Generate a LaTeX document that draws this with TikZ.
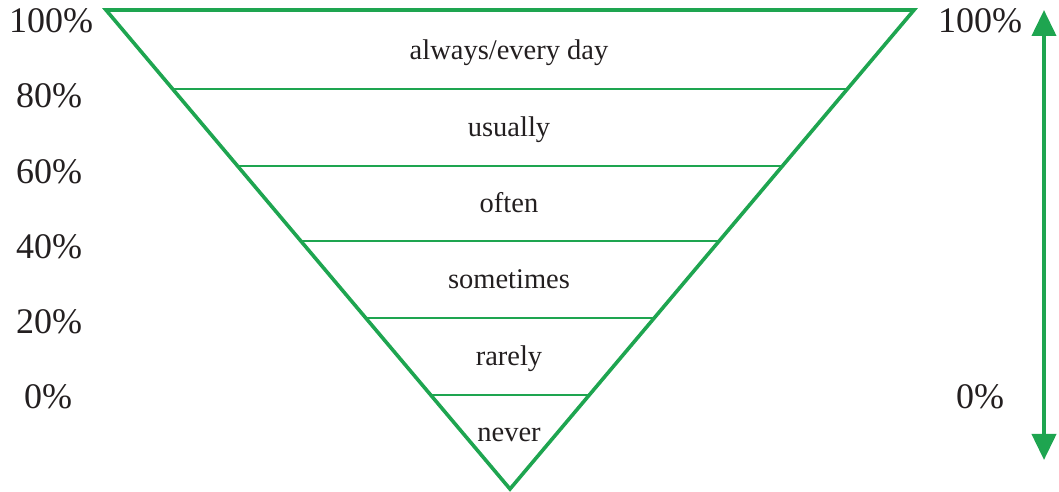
\documentclass[tikz,border=0pt]{standalone}
\usepackage{fontspec}
\setmainfont{Liberation Serif}
\usetikzlibrary{arrows.meta,positioning,calc}
\definecolor{freqGreen}{RGB}{30,165,80}
\definecolor{freqText}{RGB}{35,31,32}

\begin{document}
\begin{tikzpicture}[
  x=1pt, y=1pt,
  percent/.style={
    anchor=base,
    inner sep=0pt,
    text=freqText,
    font=\fontsize{36}{40}\selectfont
  },
  level/.style={
    anchor=base,
    inner sep=0pt,
    text=freqText,
    font=\fontsize{28.5}{32}\selectfont
  },
  outline/.style={freqGreen,line width=3.6pt,line join=miter},
  band/.style={freqGreen,line width=2.6pt},
  scalearrow/.style={{Triangle[width=24pt,length=26pt]}-{Triangle[width=24pt,length=26pt]},freqGreen,line width=4pt}
]
  \useasboundingbox (0,0) rectangle (1059,492);
  % funnel outline
  \coordinate (tl) at (106,482);
  \coordinate (tr) at (914,482);
  \coordinate (apex) at (510,3);
  \draw[band] ($(tl)!0.165!(apex)$) -- ($(tr)!0.165!(apex)$);
  \draw[band] ($(tl)!0.326!(apex)$) -- ($(tr)!0.326!(apex)$);
  \draw[band] ($(tl)!0.482!(apex)$) -- ($(tr)!0.482!(apex)$);
  \draw[band] ($(tl)!0.643!(apex)$) -- ($(tr)!0.643!(apex)$);
  \draw[band] ($(tl)!0.804!(apex)$) -- ($(tr)!0.804!(apex)$);
  \draw[outline] (tl) -- (tr) -- (apex) -- cycle;
  % frequency words
  \node[level] (always) at (509,432) {always/every day};
  \node[level] (usually) at (509,355) {usually};
  \node[level] (often) at (509,279) {often};
  \node[level] (sometimes) at (509,203) {sometimes};
  \node[level] (rarely) at (509,126) {rarely};
  \node[level] (never) at (509,50) {never};
  % left scale
  \node[percent] (l100) at (51,459) {100\%};
  \node[percent] (l80) at (49,384) {80\%};
  \node[percent] (l60) at (49,308) {60\%};
  \node[percent] (l40) at (49,233) {40\%};
  \node[percent] (l20) at (49,158) {20\%};
  \node[percent] (l0) at (48,83) {0\%};
  % right scale
  \node[percent] (r100) at (980,459) {100\%};
  \node[percent] (r0) at (980,83) {0\%};
  \coordinate (arrowtop) at (1044,482);
  \coordinate (arrowbot) at (1044,32);
  \draw[scalearrow] (arrowbot) -- (arrowtop);
\end{tikzpicture}
\end{document}
